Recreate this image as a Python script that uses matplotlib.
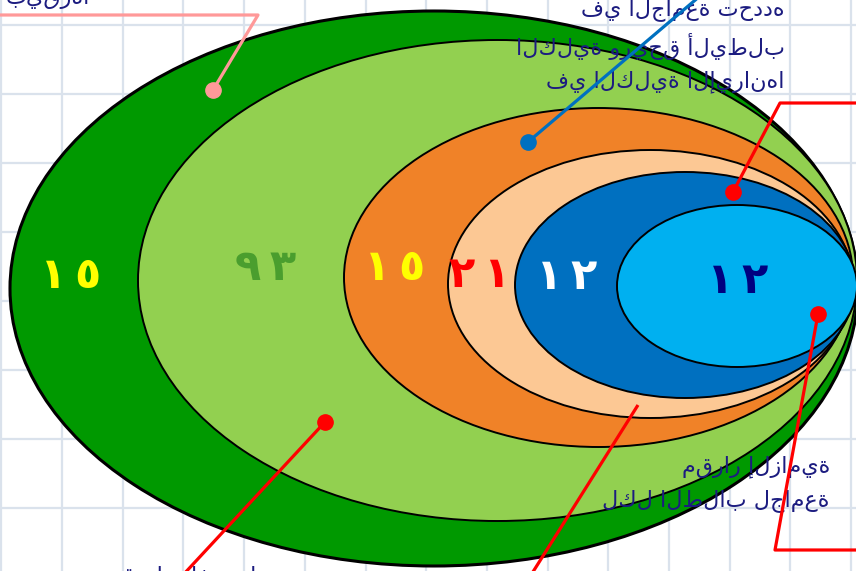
import matplotlib
matplotlib.use("Agg")
import matplotlib.pyplot as plt
from matplotlib.patches import Ellipse
import numpy as np

plt.rcParams['font.family'] = ['DejaVu Sans']

# values shown in the rings, outer ring first
ring_values = [15, 93, 15, 21, 12, 12]
ring_colors = ['#009900', '#92d050', '#f08228', '#fcc894', '#0070c0', '#00b0f0']
value_colors = ['#ffff00', '#4a9e2e', '#ffff00', '#ff0000', '#ffffff', '#000080']

# callout texts
top_note = ['في الجامعة تحدده', 'الكلية وريحق أليطلب', 'في الكلية الإيرانها']
bottom_note = ['مقرار إلزامية', 'لكل الطلاب لجامعة']
top_left_note = 'بيقرها'
bottom_left_note = 'مقررات اختيارية'

# ring bounds in pixels: left, right, top, bottom
ring_bounds = [(10, 858, 11, 566), (138, 857, 40, 521), (344, 853, 108, 447),
               (448, 853, 150, 418), (515, 855, 172, 398), (617, 857, 205, 367)]
label_pos = [(71, 276), (266, 268), (395, 268), (480, 275), (567, 277), (738, 281)]


def arabic_digits(n):
    return '\u2009'.join(chr(0x0660 + int(d)) for d in str(n))


fig = plt.figure(figsize=(8.56, 5.71), dpi=100)
ax = fig.add_axes([0, 0, 1, 1])
ax.set_xlim(0, 856)
ax.set_ylim(571, 0)
ax.axis('off')

# grid paper background
for gx in np.arange(1.3, 860, 60.7):
    ax.axvline(gx, color='#dae2ec', lw=1.6, zorder=0)
for gy in np.arange(25, 575, 69):
    ax.axhline(gy, color='#dae2ec', lw=1.6, zorder=0)

for i, (l, r, t, b) in enumerate(ring_bounds):
    e = Ellipse(((l + r) / 2, (t + b) / 2), r - l, b - t,
                facecolor=ring_colors[i], edgecolor='black',
                lw=2.2 if i == 0 else 1.4, zorder=2 + i)
    ax.add_patch(e)

for i, v in enumerate(ring_values):
    x, y = label_pos[i]
    ax.text(x, y, arabic_digits(v), color=value_colors[i], fontsize=31,
            fontweight='bold', ha='center', va='center', zorder=20)

navy = '#1c1c80'
for k, line in enumerate(top_note):
    ax.text(785, 10 + k * 36, line, color=navy, fontsize=16, ha='right',
            va='center', zorder=21)
for k, line in enumerate(bottom_note):
    ax.text(830, 467 + k * 34, line, color=navy, fontsize=16, ha='right',
            va='center', zorder=21)
ax.text(90, 9, top_left_note, color=navy, fontsize=16, ha='right', va='bottom', zorder=21)
ax.text(200, 566, bottom_left_note, color=navy, fontsize=16, ha='center', va='top', zorder=21)

# callout lines
def callout(pts, color, dot=True):
    xs, ys = zip(*pts)
    ax.plot(xs, ys, color=color, lw=2.3, zorder=30, solid_capstyle='butt')
    if dot:
        ax.plot(xs[0], ys[0], 'o', color=color, ms=11, zorder=31)

callout([(213, 90), (258, 15), (-5, 15)], '#ff9999')
callout([(528, 142), (700, -4)], '#0070c0')
callout([(733, 192), (780, 103), (860, 103)], '#ff0000')
callout([(818, 314), (775, 550), (860, 550)], '#ff0000')
callout([(325, 422), (183, 575)], '#ff0000')
callout([(638, 405), (531, 575)], '#ff0000', dot=False)

fig.savefig('out.png', dpi=100, facecolor='white')
